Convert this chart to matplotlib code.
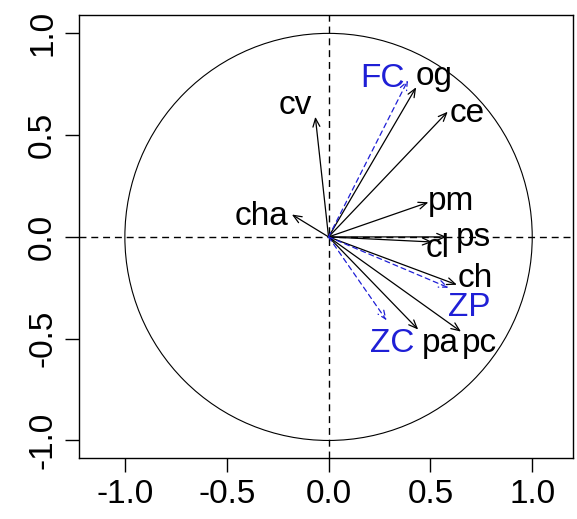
import numpy as np
import matplotlib.pyplot as plt
from matplotlib.patches import Circle

plt.rcParams['font.family'] = ['Liberation Sans', 'DejaVu Sans']

# active variables (black arrows)
var_names = ['cv', 'cha', 'og', 'ce', 'pm', 'ps', 'cl', 'ch', 'pc', 'pa']
var_x = [-0.065, -0.18, 0.43, 0.585, 0.49, 0.58, 0.51, 0.63, 0.65, 0.44]
var_y = [0.59, 0.11, 0.735, 0.615, 0.17, 0.0, -0.025, -0.235, -0.465, -0.455]
# label positions
lab_x = [-0.165, -0.33, 0.52, 0.68, 0.60, 0.71, 0.535, 0.72, 0.74, 0.55]
lab_y = [0.645, 0.10, 0.79, 0.605, 0.175, -0.005, -0.055, -0.205, -0.525, -0.525]

# supplementary variables (blue dashed arrows)
sup_names = ['FC', 'ZP', 'ZC']
sup_x = [0.39, 0.59, 0.285]
sup_y = [0.77, -0.25, -0.41]
sup_lab_x = [0.265, 0.69, 0.31]
sup_lab_y = [0.78, -0.345, -0.525]

blue = '#1f1fd6'

fig = plt.figure(figsize=(5.77, 5.19), dpi=100)
ax = fig.add_axes([0.137, 0.118, 0.856, 0.853])

ax.add_patch(Circle((0, 0), 1, fill=False, lw=0.8, color='black'))
ax.axhline(0, color='black', ls='--', lw=1, dashes=(5, 3.5))
ax.axvline(0, color='black', ls='--', lw=1, dashes=(5, 3.5))

head = '->,head_length=0.6,head_width=0.25'
for n, x, y, lx, ly in zip(var_names, var_x, var_y, lab_x, lab_y):
    ax.annotate('', xy=(x, y), xytext=(0, 0),
                arrowprops=dict(arrowstyle=head, lw=0.9, color='black',
                                shrinkA=0, shrinkB=0))
    ax.text(lx, ly, n, fontsize=24, ha='center', va='center')

for n, x, y, lx, ly in zip(sup_names, sup_x, sup_y, sup_lab_x, sup_lab_y):
    ax.annotate('', xy=(x, y), xytext=(0, 0),
                arrowprops=dict(arrowstyle=head, lw=0.9, color=blue, ls=(0, (4, 3)),
                                shrinkA=0, shrinkB=0))
    ax.text(lx, ly, n, fontsize=24, ha='center', va='center', color=blue)

ax.set_xlim(-1.225, 1.2)
ax.set_ylim(-1.085, 1.09)
ticks = [-1.0, -0.5, 0.0, 0.5, 1.0]
ax.set_xticks(ticks)
ax.set_yticks(ticks)
ax.set_xticklabels(['%.1f' % t for t in ticks])
ax.set_yticklabels(['%.1f' % t for t in ticks], rotation=90, va='center')
ax.tick_params(labelsize=24, length=10, width=1, pad=5)
for s in ax.spines.values():
    s.set_linewidth(1)

fig.savefig('out.png', dpi=100)
